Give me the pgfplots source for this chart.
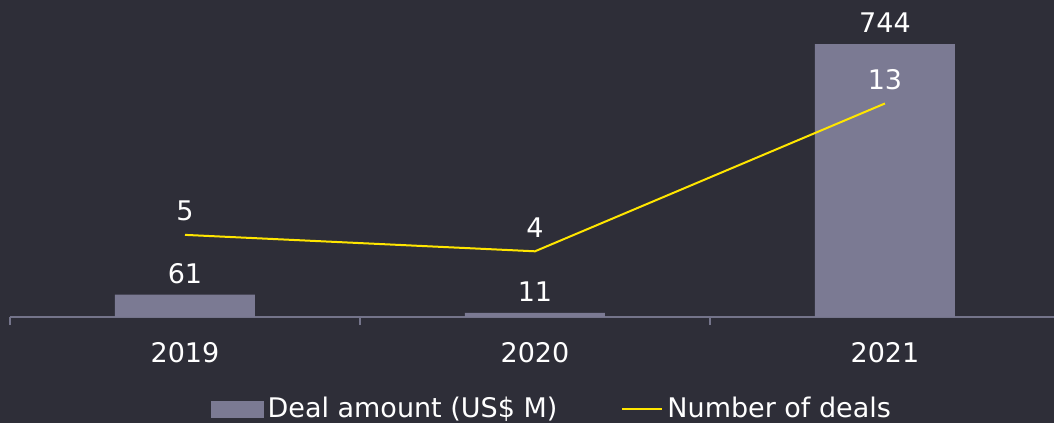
\documentclass[border=0pt]{standalone}
\usepackage{fontspec}
\setmainfont{DejaVu Sans}
\usepackage{pgfplots}
\pgfplotsset{compat=1.18}
\definecolor{bgc}{HTML}{2E2E38}
\definecolor{barc}{HTML}{7B7A93}
\definecolor{axc}{HTML}{74748A}
\definecolor{yel}{HTML}{FFE600}
\begin{document}
\begin{tikzpicture}[x=0.5pt,y=0.5pt]
\fill[bgc] (0,0) rectangle (1054,423);
\pgfplotsset{
  common/.style={
    scale only axis, width=522pt, height=158.5pt,
    at={(5pt,53pt)}, anchor=south west,
    xmin=-0.5, xmax=2.483,
    /pgf/number format/assume math mode=true,
    nodes near coords style={font=\fontsize{13.5}{16}\selectfont, text=white},
  }
}
\begin{axis}[common,
    ybar, bar width=70pt,
    ymin=0, ymax=864,
    axis x line=bottom, hide y axis,
    axis line style={axc, line width=0.8pt, -},
    xtick={0,1,2}, xticklabels={2019,2020,2021},
    major tick length=0pt,
    minor xtick={-0.5,0.5,1.5},
    minor tick length=4pt,
    tick align=outside,
    minor tick style={axc, line width=0.8pt},
    xticklabel style={font=\fontsize{13.5}{16}\selectfont, text=white, yshift=-9pt},
    nodes near coords,
    nodes near coords style={yshift=2pt},
]
\addplot[fill=barc, draw=none] coordinates {(0,61) (1,11) (2,744)};
\end{axis}
\begin{axis}[common,
    ymin=0, ymax=19.3,
    hide x axis, hide y axis,
    legend columns=2,
    legend style={at={(0.52,-0.29)}, anchor=center, draw=none, fill=none,
      text=white, font=\fontsize{13.5}{16}\selectfont,
      /tikz/every even column/.append style={column sep=30pt},
      /tikz/every odd column/.append style={column sep=0pt}},
]
\addlegendimage{legend image code/.code={\fill[barc] (0pt,-4pt) rectangle (26pt,4pt);}}
\addlegendentry{Deal amount (US\$ M)}
\addplot[yel, line width=1pt, mark=none, nodes near coords,
  nodes near coords style={yshift=3pt},
  legend image code/.code={\draw[yel, line width=1pt] (0pt,0pt) -- (20pt,0pt);}]
  coordinates {(0,5) (1,4) (2,13)};
\addlegendentry{Number of deals}
\end{axis}
\pgfresetboundingbox
\useasboundingbox (0,0) rectangle (1054,423);
\end{tikzpicture}
\end{document}
